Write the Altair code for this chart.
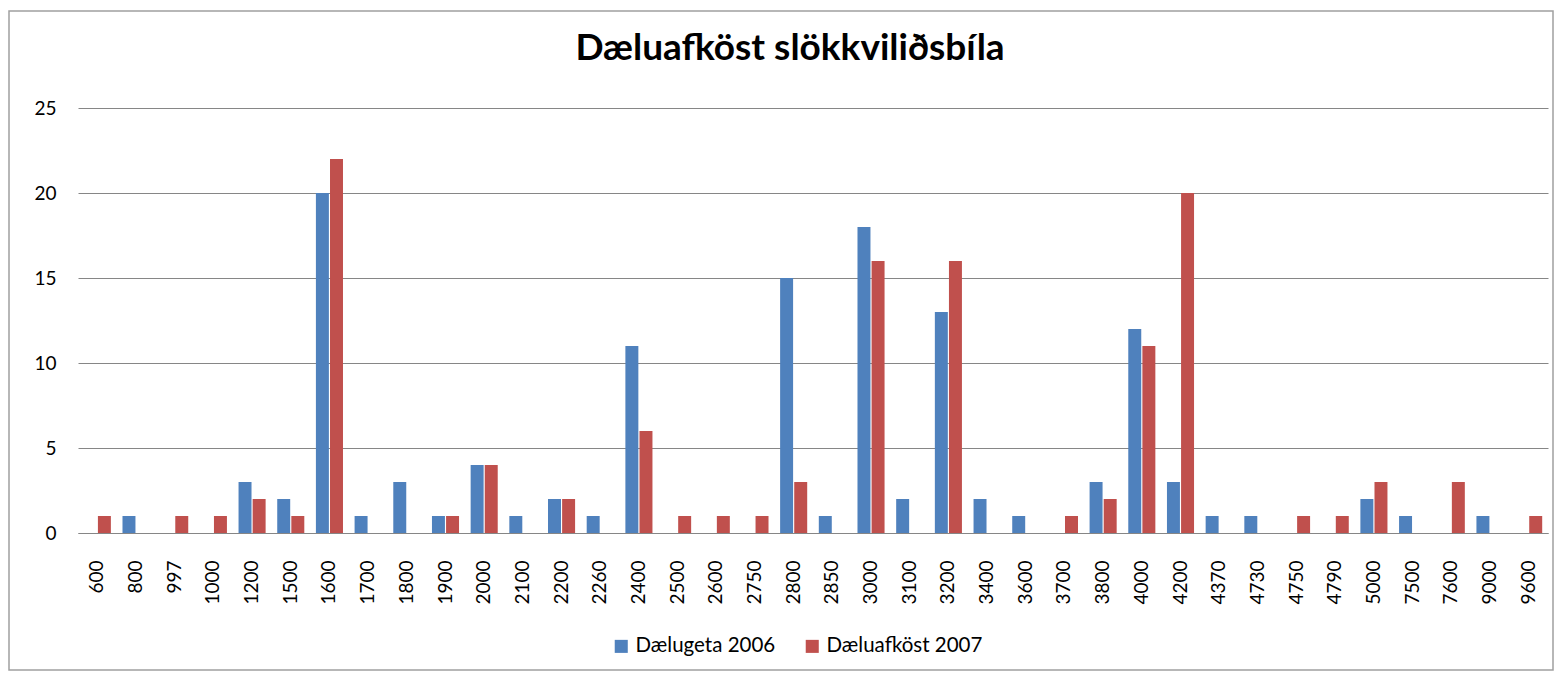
import altair as alt
import pandas as pd

categories = ["600", "800", "997", "1000", "1200", "1500", "1600", "1700", "1800", "1900",
              "2000", "2100", "2200", "2260", "2400", "2500", "2600", "2750", "2800", "2850",
              "3000", "3100", "3200", "3400", "3600", "3700", "3800", "4000", "4200", "4370",
              "4730", "4750", "4790", "5000", "7500", "7600", "9000", "9600"]
series_2006 = [0, 1, 0, 0, 3, 2, 20, 1, 3, 1,
               4, 1, 2, 1, 11, 0, 0, 0, 15, 1,
               18, 2, 13, 2, 1, 0, 3, 12, 3, 1,
               1, 0, 0, 2, 1, 0, 1, 0]
series_2007 = [1, 0, 1, 1, 2, 1, 22, 0, 0, 1,
               4, 0, 2, 0, 6, 1, 1, 1, 3, 0,
               16, 0, 16, 0, 0, 1, 2, 11, 20, 0,
               0, 1, 1, 3, 0, 3, 0, 1]
series_names = ["Dælugeta 2006", "Dæluafköst 2007"]
colors = ["#4F81BD", "#C0504D"]

rows = []
for c, a, b in zip(categories, series_2006, series_2007):
    rows.append({"cat": c, "series": series_names[0], "value": a})
    rows.append({"cat": c, "series": series_names[1], "value": b})
df = pd.DataFrame(rows)

W, H = 1470, 425
FONT = "Lato"

bars = alt.Chart(df).mark_bar().encode(
    x=alt.X("cat:N", sort=categories, title=None,
            scale=alt.Scale(paddingInner=0.3, paddingOuter=0.15),
            axis=alt.Axis(labelAngle=-90, labelAlign="right", labelBaseline="middle",
                          labelFontSize=19, labelColor="#000000", labelFont=FONT,
                          labelPadding=27, ticks=False, domainColor="#868686",
                          domainWidth=1, grid=False, labelOverlap=False)),
    xOffset=alt.XOffset("series:N", sort=series_names,
                        scale=alt.Scale(paddingInner=0.08)),
    y=alt.Y("value:Q", title=None,
            scale=alt.Scale(domain=[0, 25]),
            axis=alt.Axis(values=[0, 5, 10, 15, 20, 25], labelFontSize=19,
                          labelColor="#000000", labelFont=FONT, labelPadding=22,
                          ticks=False, domain=False, gridColor="#868686",
                          gridWidth=1)),
    color=alt.Color("series:N", sort=series_names,
                    scale=alt.Scale(domain=series_names, range=colors),
                    legend=alt.Legend(title=None, orient="none", direction="horizontal",
                                      legendX=533, legendY=528, symbolType="square",
                                      symbolSize=170, symbolStrokeWidth=0,
                                      labelFontSize=20.5, labelFont=FONT,
                                      labelColor="#000000", columnPadding=26,
                                      symbolOpacity=1)),
)

frame = alt.Chart(pd.DataFrame({"k": [0]})).mark_rect(
    fill=None, stroke="#A0A0A0", strokeWidth=1.5, clip=False
).encode(
    x=alt.value(-69), x2=alt.value(W + 5),
    y=alt.value(-97), y2=alt.value(H + 137),
)

chart = alt.layer(frame, bars).properties(
    width=W, height=H,
    autosize=alt.AutoSizeParams(type="none"),
    padding={"left": 70, "top": 100, "right": 6, "bottom": 138},
    title=alt.TitleParams("Dæluafköst slökkviliðsbíla", fontSize=37, font=FONT,
                          fontWeight="bold", color="#000000", anchor="middle",
                          offset=-58, dx=-23),
).configure_view(stroke=None)

chart.save("out.html", embed_options={"renderer": "svg", "actions": False})
